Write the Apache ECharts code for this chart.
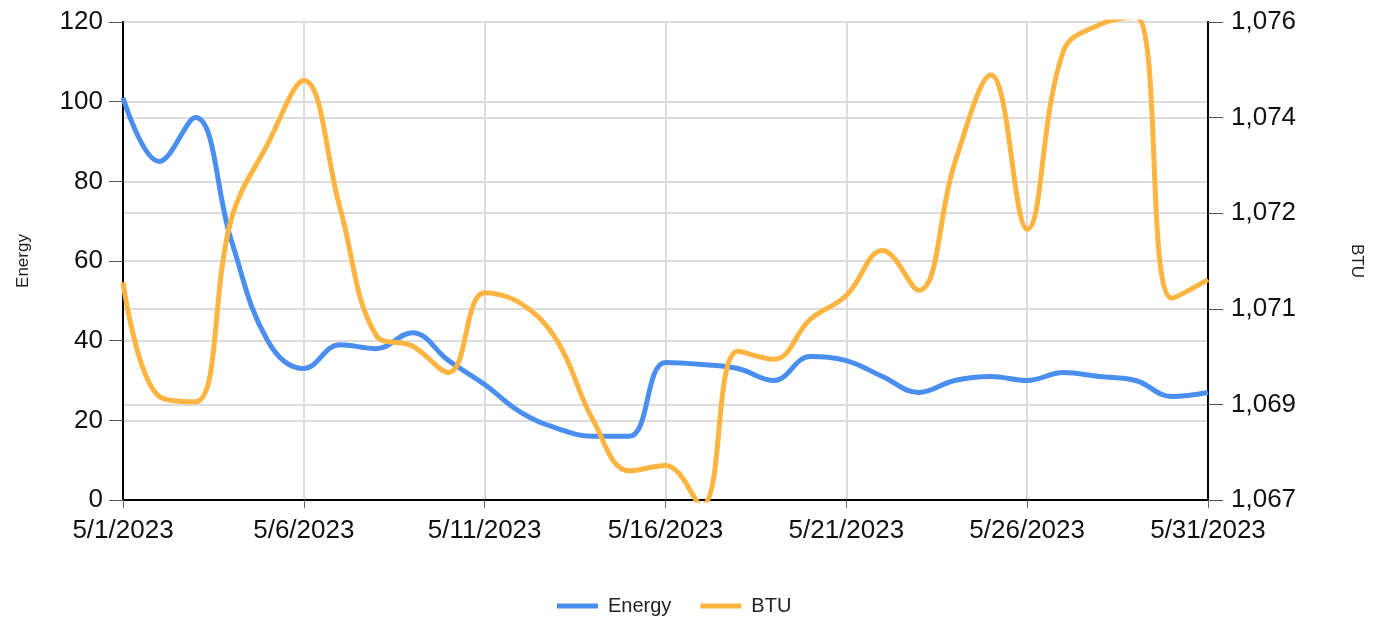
<!DOCTYPE html>
<html>
<head>
<meta charset="utf-8">
<script src="https://cdn.jsdelivr.net/npm/echarts@6/dist/echarts.min.js"></script>
<style>html,body{margin:0;padding:0;background:#fff}#c{width:1379px;height:626px}</style>
</head>
<body>
<div id="c"></div>
<script>
const dates = ['5/1/2023','5/2/2023','5/3/2023','5/4/2023','5/5/2023','5/6/2023','5/7/2023','5/8/2023','5/9/2023','5/10/2023','5/11/2023','5/12/2023','5/13/2023','5/14/2023','5/15/2023','5/16/2023','5/17/2023','5/18/2023','5/19/2023','5/20/2023','5/21/2023','5/22/2023','5/23/2023','5/24/2023','5/25/2023','5/26/2023','5/27/2023','5/28/2023','5/29/2023','5/30/2023','5/31/2023'];
const energy = [101, 85, 96, 65, 40, 33, 39, 38, 42, 35, 29, 22, 18, 16, 16, 34.5, 34, 33, 30, 36, 35, 31, 27, 30, 31, 30, 32, 31, 30, 26, 27];
const btu = [1071.1, 1068.95, 1068.85, 1072.3, 1073.7, 1074.9, 1072.5, 1070.1, 1069.9, 1069.4, 1070.9, 1070.7, 1070.0, 1068.5, 1067.55, 1067.65, 1066.9, 1069.8, 1069.65, 1070.4, 1070.85, 1071.7, 1070.95, 1073.35, 1075.0, 1072.1, 1075.45, 1075.95, 1076.1, 1070.8, 1071.15];
const seriesNames = ['Energy', 'BTU'];
const colors = ['#4a8ff0', '#fdb441'];

const chart = echarts.init(document.getElementById('c'), null, {renderer: 'canvas'});
const font = 'Liberation Sans, Arial, sans-serif';
chart.setOption({
  animation: false,
  textStyle: {fontFamily: font},
  grid: {left: 123, right: 171, top: 22, bottom: 126, show: true, borderColor: '#000', borderWidth: 2, backgroundColor: 'transparent'},
  legend: {
    data: seriesNames, bottom: 5, left: 552,
    icon: 'rect', itemWidth: 41, itemHeight: 5, itemGap: 29,
    textStyle: {fontSize: 20, color: '#222', fontFamily: font, padding: [0, 0, 0, 5]}
  },
  xAxis: {
    type: 'category', data: dates, boundaryGap: false,
    axisLine: {lineStyle: {color: '#000', width: 2}},
    axisTick: {interval: 4, length: 8, lineStyle: {color: '#666'}},
    axisLabel: {interval: 4, fontSize: 26, color: '#111', margin: 18, fontFamily: font},
    splitLine: {show: true, interval: 4, lineStyle: {color: '#dcdcdc', width: 2}}
  },
  yAxis: [{
    type: 'value', min: 0, max: 120, interval: 20,
    name: 'Energy', nameLocation: 'middle', nameGap: 91, nameRotate: 90,
    nameTextStyle: {fontSize: 17, color: '#222', fontFamily: font},
    axisLine: {show: true, lineStyle: {color: '#000', width: 2}},
    axisTick: {show: true, length: 14, lineStyle: {color: '#555'}},
    axisLabel: {fontSize: 26, color: '#111', margin: 20, fontFamily: font},
    splitLine: {show: true, lineStyle: {color: '#dcdcdc', width: 2}}
  }, {
    type: 'value', min: 1067, max: 1076, interval: 1.8, position: 'right',
    name: 'BTU', nameLocation: 'middle', nameGap: 140, nameRotate: -90,
    nameTextStyle: {fontSize: 17, color: '#222', fontFamily: font},
    axisLine: {show: true, lineStyle: {color: '#000', width: 2}},
    axisTick: {show: true, length: 15, lineStyle: {color: '#555'}},
    axisLabel: {fontSize: 26, color: '#111', margin: 23, fontFamily: font,
      formatter: v => Math.round(v).toLocaleString('en-US')},
    splitLine: {show: true, lineStyle: {color: '#dcdcdc', width: 2}}
  }],
  series: [{
    name: seriesNames[0], type: 'line', data: energy, yAxisIndex: 0,
    smooth: 0.4, showSymbol: false, symbol: 'none',
    lineStyle: {color: colors[0], width: 5}, itemStyle: {color: colors[0]}
  }, {
    name: seriesNames[1], type: 'line', data: btu, yAxisIndex: 1,
    smooth: 0.4, showSymbol: false, symbol: 'none',
    lineStyle: {color: colors[1], width: 5}, itemStyle: {color: colors[1]}
  }]
});
</script>
</body>
</html>
